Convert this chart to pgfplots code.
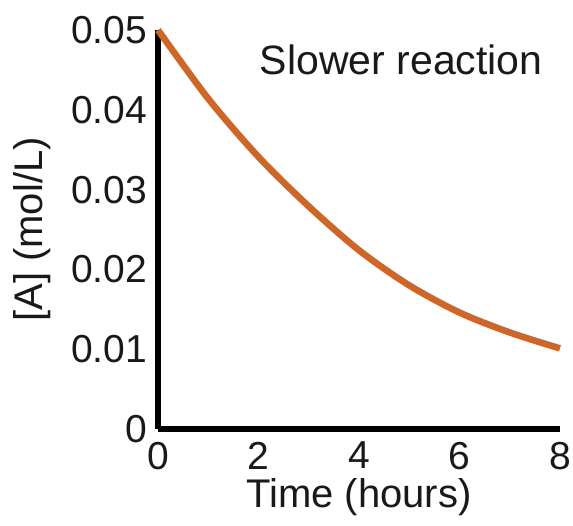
\documentclass[border=0pt]{standalone}
\usepackage{fontspec}
\setmainfont{Liberation Sans}
\usepackage{pgfplots}
\pgfplotsset{compat=1.18}
\definecolor{curveorange}{RGB}{204,102,41}

\begin{document}
\begin{tikzpicture}
\useasboundingbox (-79pt,-48pt) rectangle (207.5pt,214.5pt);
\begin{axis}[
  scale only axis,
  width=201pt, height=199.5pt,
  xmin=0, xmax=8, ymin=0, ymax=0.05,
  axis lines=left,
  axis line style={-, line width=3pt, black},
  xtick={0,2,4,6,8},
  ytick={0,0.01,0.02,0.03,0.04,0.05},
  yticklabels={0,0.01,0.02,0.03,0.04,0.05},
  scaled y ticks=false,
  major tick length=0pt,
  tick style={draw=none},
  /pgf/number format/assume math mode=true,
  tick label style={font=\fontsize{19.5}{22}\selectfont, text=black!90},
  xticklabel style={yshift=-3pt},
  yticklabel style={xshift=-2pt},
  xlabel={Time (hours)},
  ylabel={[A] (mol/L)},
  label style={font=\fontsize{20}{23}\selectfont, text=black!90},
  xlabel style={at={(axis description cs:0.5,-0.17)}, anchor=center},
  ylabel style={at={(axis description cs:-0.313,0.5)}, anchor=center},
  clip=false,
]
\addplot[curveorange, line width=3.3pt, smooth] coordinates {
  (0,0.05) (1,0.0414) (2,0.0341) (3,0.0279) (4,0.0224)
  (5,0.0180) (6,0.0146) (7,0.0121) (8,0.0101)
};
\node[font=\fontsize{20.5}{23}\selectfont, text=black!90] at (axis cs:4.84,0.0462) {Slower reaction};
\end{axis}
\end{tikzpicture}
\end{document}
